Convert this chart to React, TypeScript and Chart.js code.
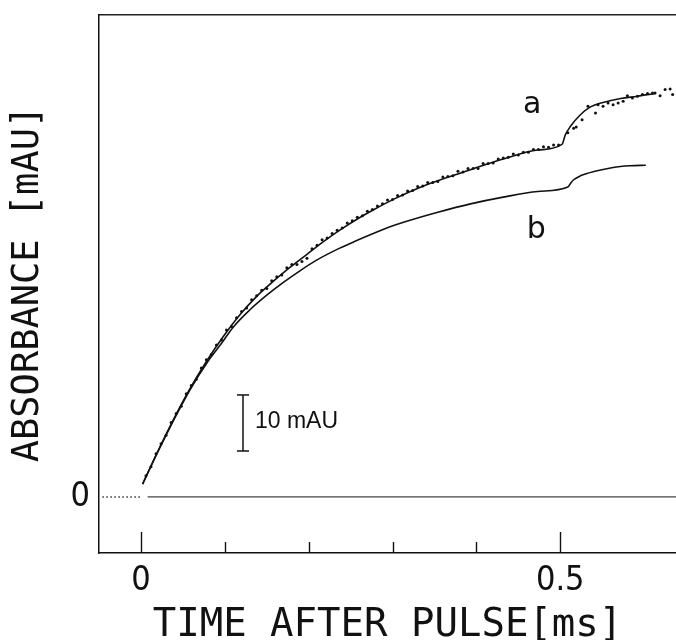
import React, { useEffect, useRef } from "react";
import { Chart, registerables } from "chart.js";

Chart.register(...registerables);

// ---- axes ----
const X_MIN = -0.05;
const X_MAX = 0.638;
const Y_MIN = -10;
const Y_MAX = 86;
const X_TICKS = [0, 0.1, 0.2, 0.3, 0.4, 0.5];
const X_TICK_LABELS = ["0", "", "", "", "", "0.5"];
const Y_TICKS = [0];
const Y_TICK_LABELS = ["0"];
const X_TITLE = "TIME AFTER PULSE[ms]";
const Y_TITLE = "ABSORBANCE [mAU]";

// ---- curve a (fit) ----
const FIT_A_T = [0.002, 0.019, 0.038, 0.058, 0.079, 0.098, 0.118, 0.138, 0.158, 0.178, 0.198, 0.218, 0.238, 0.258, 0.278, 0.301, 0.334, 0.375, 0.393, 0.432, 0.473, 0.502, 0.506, 0.512, 0.524, 0.536, 0.551, 0.572, 0.592, 0.613];
const FIT_A_V = [2.3, 7.8, 13.6, 19.2, 24.4, 28.6, 32.5, 35.8, 38.5, 41.0, 43.3, 45.6, 47.7, 49.6, 51.3, 53.1, 55.3, 57.5, 58.4, 60.3, 61.9, 62.9, 64.6, 66.1, 68.2, 69.6, 70.4, 71.1, 71.5, 72.0];

// ---- curve b ----
const FIT_B_T = [0.002, 0.019, 0.038, 0.058, 0.079, 0.095, 0.11, 0.13, 0.15, 0.169, 0.19, 0.21, 0.237, 0.258, 0.277, 0.297, 0.315, 0.354, 0.393, 0.432, 0.473, 0.509, 0.512, 0.516, 0.524, 0.544, 0.563, 0.583, 0.602];
const FIT_B_V = [2.3, 7.7, 13.4, 19.0, 24.0, 27.2, 30.3, 33.4, 36.0, 38.2, 40.4, 42.3, 44.4, 45.8, 47.0, 48.2, 49.1, 50.8, 52.3, 53.5, 54.5, 55.3, 55.9, 56.6, 57.3, 58.2, 58.8, 59.1, 59.2];

// ---- measured points of a ----
const DOTS_T = [
  0.006, 0.012, 0.018, 0.024, 0.030, 0.036, 0.042, 0.048, 0.054, 0.060,
  0.066, 0.072, 0.078, 0.084, 0.090, 0.096, 0.102, 0.108, 0.114, 0.120,
  0.126, 0.132, 0.138, 0.144, 0.150, 0.156, 0.162, 0.168, 0.174, 0.180,
  0.186, 0.192, 0.198, 0.204, 0.210, 0.216, 0.222, 0.228, 0.234, 0.240,
  0.246, 0.252, 0.258, 0.264, 0.270, 0.276, 0.282, 0.288, 0.294, 0.300,
  0.306, 0.312, 0.318, 0.324, 0.330, 0.336, 0.342, 0.348, 0.354, 0.360,
  0.366, 0.372, 0.378, 0.384, 0.390, 0.396, 0.402, 0.408, 0.414, 0.420,
  0.426, 0.432, 0.438, 0.444, 0.450, 0.456, 0.462, 0.468, 0.474, 0.480,
  0.486, 0.492, 0.498,
  0.509, 0.516, 0.519, 0.526, 0.533, 0.542, 0.545, 0.551, 0.557, 0.563,
  0.569, 0.575, 0.580, 0.586, 0.592, 0.598, 0.604, 0.610, 0.613, 0.619,
  0.625, 0.631, 0.634
];
const DOTS_V = [
  3.8, 5.4, 7.7, 9.5, 11.0, 13.3, 14.9, 16.2, 18.4, 19.9,
  21.0, 23.0, 24.5, 25.4, 27.1, 28.0, 29.8, 30.4, 32.0, 33.1,
  33.7, 35.2, 35.9, 36.9, 37.2, 38.6, 39.3, 39.6, 40.9, 41.5,
  41.5, 42.0, 42.6, 44.3, 44.9, 45.9, 46.2, 47.0, 47.6, 48.0,
  48.9, 49.3, 49.9, 50.2, 51.0, 51.3, 51.9, 52.3, 53.0, 53.1,
  53.8, 53.9, 54.6, 54.7, 55.4, 55.5, 56.1, 56.1, 56.3, 57.1,
  57.2, 57.3, 58.1, 58.0, 58.6, 58.6, 58.6, 59.5, 59.5, 59.6,
  60.3, 60.5, 60.6, 61.2, 61.0, 61.5, 61.5, 62.0, 62.0, 62.5,
  62.4, 62.8, 62.8,
  65.0, 65.8, 66.0, 67.3, 69.7, 68.5, 70.0, 69.7, 70.3, 70.0,
  70.3, 70.6, 71.6, 71.2, 71.5, 71.8, 72.0, 72.1, 72.1, 71.6,
  72.7, 72.8, 71.8
];

// ---- baseline ----
const PRE_T = [-0.046, 0.001];
const PRE_V = [0, 0];
const BASE_T = [0.008, 0.638];
const BASE_V = [0, 0];

// ---- 10 mAU scale bar ----
const BAR_T = [0.1217, 0.1217];
const BAR_V = [8.2, 18.2];

// ---- text labels ----
const LABEL_TEXT = ["a", "b", "10 mAU"];
const LABEL_T = [0.4665, 0.4714, 0.136];
const LABEL_V = [68.6, 46.2, 13.4];

const pts = (t: number[], v: number[]) => t.map((x, i) => ({ x, y: v[i] }));

const INK = "#111";
const TICK_FONT = '"Liberation Sans Narrow", "DejaVu Sans Condensed", sans-serif';
const TITLE_FONT = '"DejaVu Sans Mono", monospace';

const annotations = {
  id: "annotations",
  afterDatasetsDraw(chart: any) {
    const { ctx, chartArea } = chart;
    const x = chart.scales.x;
    const y = chart.scales.y;
    ctx.save();
    // inward tick marks
    ctx.strokeStyle = INK;
    ctx.lineWidth = 1.4;
    X_TICKS.forEach((t, i) => {
      const px = Math.round(x.getPixelForValue(t)) + 0.5;
      const len = X_TICK_LABELS[i] ? 21 : 11;
      ctx.beginPath();
      ctx.moveTo(px, chartArea.bottom);
      ctx.lineTo(px, chartArea.bottom - len);
      ctx.stroke();
    });
    // labels
    ctx.fillStyle = INK;
    LABEL_TEXT.forEach((txt, i) => {
      const px = x.getPixelForValue(LABEL_T[i]);
      const py = y.getPixelForValue(LABEL_V[i]);
      if (txt.length > 1) {
        ctx.font = '23px "Liberation Sans", Arial, sans-serif';
        ctx.textAlign = "left";
        ctx.textBaseline = "middle";
      } else {
        ctx.font = '30px "DejaVu Sans", sans-serif';
        ctx.textAlign = "center";
        ctx.textBaseline = "alphabetic";
      }
      ctx.fillText(txt, px, py);
    });
    ctx.restore();
  },
};

export default function App() {
  const ref = useRef<HTMLCanvasElement | null>(null);

  useEffect(() => {
    if (!ref.current) return;
    const lineDs = (label: string, data: any[], extra: any = {}) => ({
      label,
      data,
      borderColor: INK,
      backgroundColor: INK,
      borderWidth: 1.6,
      pointRadius: 0,
      fill: false,
      ...extra,
    });
    const chart = new Chart(ref.current, {
      type: "line",
      data: {
        datasets: [
          lineDs("pre", pts(PRE_T, PRE_V), { borderWidth: 1.4, borderDash: [1.5, 2.5], borderColor: "#333" }),
          lineDs("base", pts(BASE_T, BASE_V), { borderWidth: 1.2, borderColor: "#444" }),
          lineDs("b", pts(FIT_B_T, FIT_B_V), { cubicInterpolationMode: "monotone" }),
          lineDs("a", pts(FIT_A_T, FIT_A_V), { cubicInterpolationMode: "monotone" }),
          lineDs("dots", pts(DOTS_T, DOTS_V), {
            showLine: false,
            pointRadius: 1.5,
            pointBorderWidth: 0,
            pointBackgroundColor: INK,
          }),
          lineDs("bar", pts(BAR_T, BAR_V), {
            borderWidth: 1.5,
            pointStyle: "line",
            pointRadius: 6,
            pointBorderWidth: 1.5,
            pointBorderColor: INK,
          }),
        ],
      },
      options: {
        responsive: false,
        animation: false,
        events: [],
        layout: { padding: 0, autoPadding: false },
        plugins: { legend: { display: false }, tooltip: { enabled: false } },
        scales: {
          x: {
            type: "linear",
            position: "bottom",
            min: X_MIN,
            max: X_MAX,
            afterBuildTicks: (s: any) => {
              s.ticks = X_TICKS.map((value) => ({ value }));
            },
            afterFit: (s: any) => {
              s.height = 87;
              s.paddingLeft = 0;
              s.paddingRight = 0;
            },
            ticks: {
              autoSkip: false,
              maxRotation: 0,
              padding: 8,
              color: INK,
              font: { family: TICK_FONT, size: 34 },
              callback: (_v: any, i: number) => X_TICK_LABELS[i],
            },
            grid: { display: false, drawTicks: false },
            border: { display: true, color: INK, width: 1.5 },
            title: {
              display: true,
              text: X_TITLE,
              color: INK,
              font: { family: TITLE_FONT, size: 39, lineHeight: 0.7 },
              padding: 0,
            },
          },
          x2: {
            type: "linear",
            position: "top",
            min: X_MIN,
            max: X_MAX,
            afterFit: (s: any) => {
              s.height = 15;
              s.paddingLeft = 0;
              s.paddingRight = 0;
            },
            ticks: { display: false },
            grid: { display: false, drawTicks: false },
            border: { display: true, color: "#222", width: 1.4 },
          },
          y: {
            type: "linear",
            position: "left",
            min: Y_MIN,
            max: Y_MAX,
            afterBuildTicks: (s: any) => {
              s.ticks = Y_TICKS.map((value) => ({ value }));
            },
            afterFit: (s: any) => {
              s.width = 99;
              s.paddingTop = 0;
              s.paddingBottom = 0;
            },
            ticks: {
              padding: 9,
              color: INK,
              font: { family: TICK_FONT, size: 34 },
              callback: (_v: any, i: number) => Y_TICK_LABELS[i],
            },
            grid: { display: false, drawTicks: false },
            border: { display: true, color: INK, width: 1.5 },
            title: {
              display: true,
              text: Y_TITLE,
              color: INK,
              font: { family: TITLE_FONT, size: 37 },
              padding: { top: 6, bottom: 0 },
            },
          },
        },
      },
      plugins: [annotations],
    });
    return () => chart.destroy();
  }, []);

  return (
    <div style={{ position: "absolute", left: 0, top: 0, width: 676, height: 640, background: "#fff" }}>
      <canvas ref={ref} width={676} height={640} style={{ width: 676, height: 640, display: "block" }} />
    </div>
  );
}
